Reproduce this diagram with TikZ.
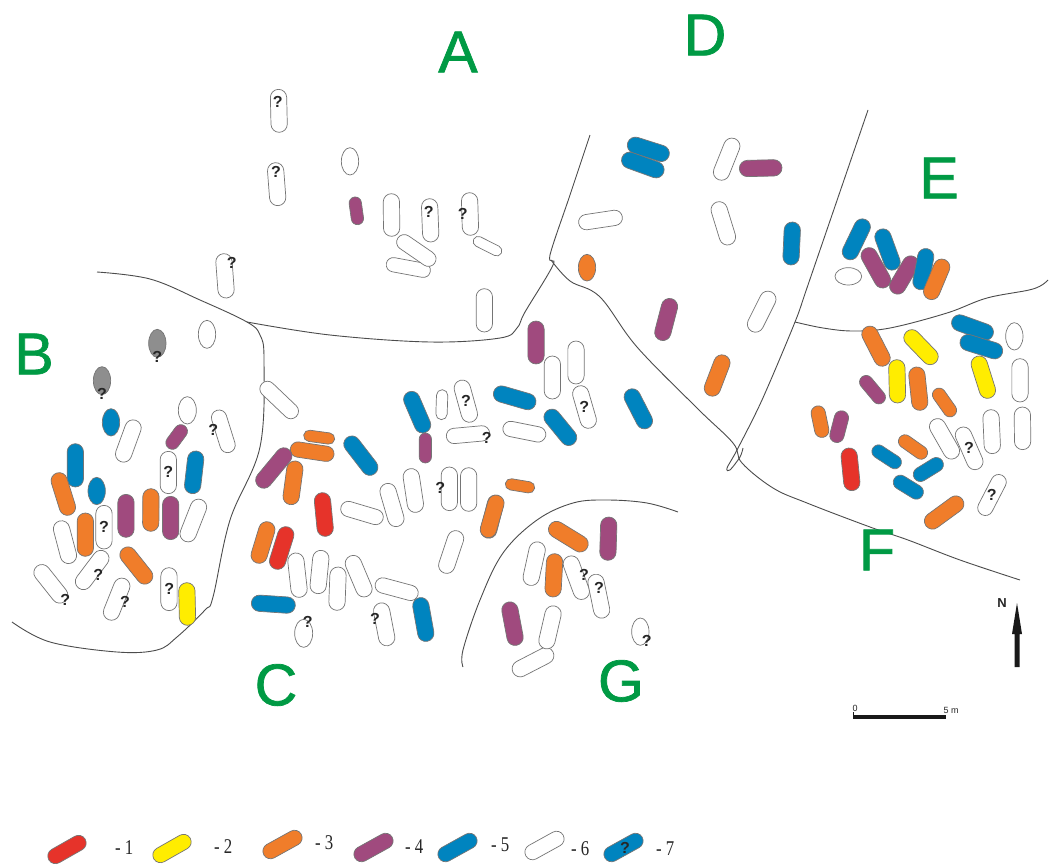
\documentclass[tikz,border=0pt]{standalone}
\usepackage{fontspec}
\setmainfont{Liberation Serif}
\setsansfont{Liberation Sans}
\newfontfamily\sitefont[FakeBold=1.2]{Liberation Sans}
\usetikzlibrary{calc}
\definecolor{cred}{HTML}{E6332A}
\definecolor{cyel}{HTML}{FFED00}
\definecolor{cora}{HTML}{F07D2A}
\definecolor{cpur}{HTML}{A04A7E}
\definecolor{cblu}{HTML}{0084BF}
\definecolor{cgry}{HTML}{8E8E8E}
\definecolor{cgrn}{HTML}{009A44}
\definecolor{cedg}{HTML}{757575}
\tikzset{
  bound/.style={draw=black!70,line width=0.9pt},
  zoomat/.style 2 args={x=0.33333pt,y=-0.33333pt,shift={(#1pt,-#2pt)}},
  qmark/.style={font=\sffamily\bfseries\fontsize{16}{16}\selectfont,text=black!85,inner sep=0pt},
  site/.style={font=\sitefont\fontsize{59}{59}\selectfont,text=cgrn,inner sep=0pt},
  legtext/.style={font=\rmfamily\fontsize{21}{21}\selectfont,text=black!85,inner sep=0pt,anchor=west,xscale=.8},
  scaletext/.style={font=\sffamily\fontsize{9}{9}\selectfont,text=black!85,inner sep=0pt},
  pillbox/.style={draw=cedg,line width=0.7pt,rectangle,inner sep=0pt,outer sep=0pt},
}
\newcounter{qn}
\newcounter{pn}
\newcommand{\qm}[1]{\stepcounter{qn}\node[qmark] (q\theqn) at (#1) {?};}
% pill from tip to tip: rotated rounded rectangle
\newcommand{\pil}[4][17]{%
  \stepcounter{pn}%
  \coordinate (pa) at (#3); \coordinate (pb) at (#4);
  \path let \p1=($(pb)-(pa)$), \n1={atan2(\y1,\x1)}, \n2={veclen(\x1,\y1)} in
    node[pillbox,fill=#2,minimum width=\n2-0.7pt,minimum height=#1pt-0.7pt,
         rounded corners=#1/2*1pt-0.36pt,rotate=\n1] (p\thepn) at ($(pa)!.5!(pb)$) {};}
\newcommand{\eli}[4]{\draw[cedg,line width=0.7pt,fill=#1] (#2) ellipse [x radius=#3,y radius=#4];}
\begin{document}
\begin{tikzpicture}[x=1pt,y=-1pt]
\useasboundingbox[fill=white] (0,0) rectangle (1049,865);

% boundaries
\draw[bound] plot[smooth,tension=.6] coordinates {(97,272) (150,279) (200,300) (247,322) (260,335) (264,360) (260,447) (230,520) (213,597) (205,610) (177,637) (157,650) (117,652) (50,642) (12,622)};
\draw[bound] plot[smooth,tension=.6] coordinates {(247,322) (330,335) (430,342) (500,338) (517,328) (525,312) (553,265) (550,255) (570,195) (590,135)};
\draw[bound] plot[smooth,tension=.6] coordinates {(551,260) (570,281) (600,297) (637,347) (698,409) (733,443) (742,463) (773,488) (807,503) (870,527) (908,540) (960,560) (1020,580)};
\draw[bound] plot[smooth,tension=.5] coordinates {(868,110) (809,282) (795,322) (762,400) (737,450) (727,468) (730,470) (740,457) (743,448)};
\draw[bound] plot[smooth,tension=.6] coordinates {(795,322) (823,328) (853,331) (890,328) (947,313) (987,298) (1033,289) (1048,280)};
\draw[bound] plot[smooth,tension=.6] coordinates {(463,667) (463,650) (480,600) (503,553) (537,520) (573,503) (607,500) (647,503) (678,512)};

% group B
\begin{scope}[zoomat={0}{280}]
\eli{cgry}{472,190}{26}{42}\qm{472,230}
\eli{cgry}{306,302}{26}{42}\qm{306,342}
\eli{white}{621,163}{26}{42}
\eli{cblu}{333,427}{26}{41}
\eli{white}{562,391}{27}{41}
\eli{cblu}{290,633}{26}{41}
\pil{white}{408,420}{362,546}
\pil[16]{white}{650,390}{690,518}\qm{640,450}
\pil[14]{cpur}{555,437}{505,505}
\pil{white}{505,513}{505,642}\qm{505,577}
\pil{cblu}{226,490}{226,622}
\pil{cora}{170,578}{210,706}
\pil{cblu}{590,512}{575,642}
\pil{white}{605,658}{555,785}
\pil{cpur}{378,642}{378,773}
\pil{cora}{453,625}{452,755}
\pil{cpur}{512,648}{512,780}
\pil{white}{178,722}{212,851}
\pil{cora}{256,698}{256,830}
\pil{white}{312,675}{312,808}\qm{312,742}
\pil{white}{318,815}{235,925}\qm{295,885}
\pil{cora}{368,805}{450,908}
\pil{white}{110,858}{195,965}\qm{196,960}
\pil{white}{375,895}{325,1020}\qm{375,965}
\pil{white}{507,862}{507,993}\qm{508,928}
\pil{cyel}{560,907}{563,1037}
\end{scope}

% group C
\begin{scope}[zoomat={240}{320}]
\pil[16]{white}{65,190}{170,290}
\pil[12]{cora}{190,345}{285,358}
\pil[16]{cora}{150,385}{283,405}
\pil{cpur}{148,388}{55,500}
\pil{cora}{168,422}{150,555}
\pil{cblu}{320,352}{405,462}
\pil{cred}{245,517}{258,650}
\pil[16]{white}{302,560}{430,598}
\pil{white}{437,490}{475,620}
\pil{white}{510,445}{530,578}
\pil{white}{628,440}{628,573}\qm{601,505}
\pil{white}{686,442}{686,575}
\pil[12]{cora}{795,490}{885,505}
\pil{cora}{773,525}{740,655}
\pil{white}{655,632}{612,760}
\pil{cblu}{505,215}{558,338}
\pil[13]{cpur}{556,338}{556,430}
\pil[12]{white}{607,208}{604,300}
\pil{white}{660,180}{695,307}\qm{678,243}
\pil[16]{white}{618,350}{750,338}\qm{740,355}
\pil{cora}{88,605}{50,730}
\pil{cred}{145,620}{105,748}
\pil{white}{165,698}{180,833}
\pil{white}{245,690}{232,822}
\pil{white}{295,740}{290,872}
\pil{white}{330,707}{382,830}
\pil[16]{white}{405,790}{535,825}
\pil{cblu}{538,832}{562,965}
\pil{cblu}{33,848}{167,857}
\eli{white}{191,940}{27}{42}\qm{203,905}
\pil{white}{420,848}{445,978}\qm{405,897}
\end{scope}

% centre
\begin{scope}[zoomat={400}{320}]
\pil{cpur}{408,2}{408,133}
\pil{white}{457,107}{457,238}
\pil{white}{528,62}{528,193}
\pil{white}{535,197}{572,325}\qm{553,262}
\pil{cblu}{440,272}{522,372}
\pil{cblu}{280,215}{408,252}
\pil[16]{white}{308,322}{438,348}
\pil{cblu}{685,208}{745,325}
\end{scope}

% group A
\begin{scope}[zoomat={200}{80}]
\pil{white}{235,27}{238,158}\qm{233,65}
\pil{white}{225,247}{235,378}\qm{228,277}
\eli{white}{450,244}{26}{41}
\pil[13]{cpur}{463,350}{475,435}
\pil{white}{574,340}{575,470}
\pil{white}{688,355}{693,487}\qm{686,395}
\pil{white}{808,337}{812,467}\qm{788,403}
\pil[15]{white}{558,550}{692,575}
\pil[16]{white}{593,473}{705,550}
\pil[11]{white}{820,477}{905,520}
\pil{white}{853,625}{853,757}
\pil{white}{70,520}{80,655}\qm{95,548}
\end{scope}

% group D
\begin{scope}[zoomat={570}{120}]
\pil{cblu}{172,68}{298,108}
\pil{cblu}{155,112}{282,158}
\pil{white}{495,55}{445,180}
\pil{cpur}{507,146}{637,143}
\pil[16]{white}{25,310}{158,290}
\eli{cora}{51,443}{26}{40}
\pil{white}{440,245}{480,375}
\pil{cblu}{668,305}{662,436}
\pil{cpur}{305,535}{272,662}
\pil{white}{605,515}{545,635}
\pil{cora}{465,705}{418,828}
\end{scope}

% group E and F
\begin{scope}[zoomat={780}{200}]
\pil{cblu}{258,58}{200,178}
\pil{cblu}{300,87}{345,210}
\eli{white}{205,229}{40}{26}
\pil{cpur}{255,145}{320,262}
\pil{cpur}{405,170}{340,280}
\pil{cblu}{442,145}{418,270}
\pil{cora}{495,178}{445,298}
\pil{cblu}{515,360}{640,405}
\pil{cblu}{540,420}{668,460}
\eli{white}{703,409}{26}{41}
\pil{cora}{258,380}{318,497}
\pil{cyel}{378,395}{468,488}
\pil{cyel}{350,478}{353,610}
\pil{cora}{408,500}{422,632}
\pil[14]{cpur}{245,530}{310,608}
\pil[14]{cora}{465,567}{522,648}
\pil{cyel}{590,468}{630,595}
\pil{white}{720,475}{720,607}
\pil{white}{632,628}{638,762}
\pil{white}{727,620}{728,750}
\pil{white}{460,658}{527,775}
\pil{white}{540,682}{595,808}\qm{567,745}
\pil[15]{cora}{110,617}{130,713}
\pil[15]{cpur}{190,632}{165,728}
\pil{cred}{205,743}{218,873}
\pil[14]{cblu}{278,743}{362,798}
\pil[14]{cora}{358,712}{440,770}
\pil[15]{cblu}{488,782}{402,835}
\pil[15]{cblu}{342,835}{428,888}
\pil[16]{white}{667,825}{605,945}\qm{635,885}
\pil{cora}{548,897}{437,978}
\end{scope}

% group G
\begin{scope}[zoomat={460}{490}]
\pil{cora}{115,15}{78,143}
\pil{cora}{268,105}{382,175}
\pil{cpur}{447,80}{443,212}
\pil{white}{237,155}{208,287}
\pil{white}{325,198}{373,328}\qm{372,255}
\pil{cora}{285,190}{278,322}
\pil{white}{403,252}{430,385}\qm{417,295}
\pil{cpur}{145,335}{170,467}
\pil{white}{280,485}{158,548}
\pil{white}{285,347}{255,477}
\eli{white}{541,425}{26}{41}\qm{560,452}
\end{scope}

% site letters
\node[site] (lA) at (458,52) {A};
\node[site] (lB) at (34,354) {B};
\node[site] (lC) at (276,685) {C};
\node[site] (lD) at (705,35) {D};
\node[site] (lE) at (939,178) {E};
\node[site] (lF) at (877,550) {F};
\node[site] (lG) at (621,681) {G};

% north arrow
\node[font=\sffamily\bfseries\fontsize{13}{13}\selectfont,text=black!85,inner sep=0pt] (north) at (1002,603) {N};
\fill[black!90] (1017,603) -- (1022,634) -- (1019.5,634) -- (1019.5,667) -- (1014.5,667) -- (1014.5,634) -- (1012,634) -- cycle;

% scale bar
\fill[black!90] (853,715) rectangle (946,719);
\draw[black!90,line width=0.8pt] (853.4,712) -- (853.4,716);
\node[scaletext] (sc0) at (855,708) {0};
\node[scaletext] (sc5) at (951,710) {5 m};

% legend
\pil[16]{cred}{85.5,839}{48.5,860}
\node[legtext] (t1) at (115,848) {- 1};
\pil[16]{cyel}{190.5,838}{153.5,859}
\node[legtext] (t2) at (214,847) {- 2};
\pil[16]{cora}{301.5,834}{263.5,855}
\node[legtext] (t3) at (315,843) {- 3};
\pil[16]{cpur}{392.5,837}{354.5,858}
\node[legtext] (t4) at (405,847) {- 4};
\pil[16]{cblu}{476.5,837}{438.5,858}
\node[legtext] (t5) at (491,845) {- 5};
\pil[16]{white}{563.5,835}{525.5,856}
\node[legtext] (t6) at (571,849) {- 6};
\pil[16]{cblu}{642.5,837}{604.5,858}
\node[qmark] (qleg) at (625,848) {?};
\node[legtext] (t7) at (656,849) {- 7};
\end{tikzpicture}
\end{document}
